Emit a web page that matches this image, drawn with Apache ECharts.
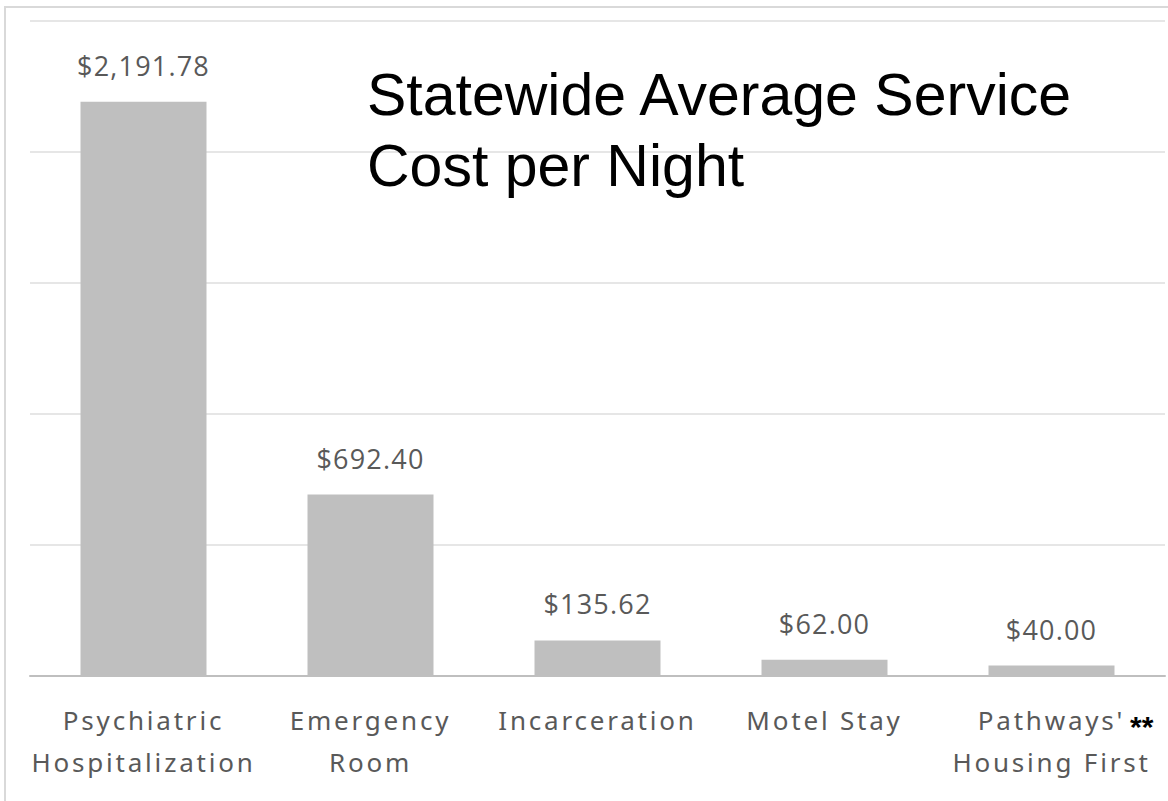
<!DOCTYPE html>
<html>
<head>
<meta charset="UTF-8">
<title>Statewide Average Service Cost per Night</title>
<style>
  html, body { margin: 0; padding: 0; background: #fff; }
  #chart { width: 1168px; height: 801px; }
  /* the original's labels are set a little wide */
  #chart text[style*="Noto Sans"] { letter-spacing: 2.8px; }
  #chart text[style*="Open Sans"] { letter-spacing: 1.2px; }
</style>
</head>
<body>
<div id="chart"></div>
<script src="https://cdn.jsdelivr.net/npm/echarts@6/dist/echarts.min.js"></script>
<script>
var categories = ['Psychiatric\nHospitalization', 'Emergency\nRoom', 'Incarceration', 'Motel Stay', "Pathways'\nHousing First"];
var costs = [2191.78, 692.40, 135.62, 62.00, 40.00];
var yTicks = [0, 500, 1000, 1500, 2000, 2500];

function money(v) {
  return '$' + v.toLocaleString('en-US', { minimumFractionDigits: 2, maximumFractionDigits: 2 });
}

var chart = echarts.init(document.getElementById('chart'), null, { renderer: 'svg' });
chart.setOption({
  animation: false,
  title: {
    text: 'Statewide Average Service\nCost per Night',
    left: 362,
    top: 54,
    textStyle: {
      fontFamily: '"Liberation Sans", Arial, sans-serif',
      fontWeight: 'normal',
      fontSize: 59,
      lineHeight: 71,
      color: '#000'
    }
  },
  grid: { left: 30, right: 3, top: 21, bottom: 125 },
  xAxis: {
    type: 'category',
    data: categories,
    axisLine: { lineStyle: { color: '#bfbfbf', width: 2 } },
    axisTick: { show: false },
    axisLabel: {
      interval: 0,
      margin: 23,
      color: '#595959',
      fontFamily: '"Noto Sans", sans-serif',
      fontSize: 26,
      lineHeight: 42
    }
  },
  yAxis: {
    type: 'value',
    min: yTicks[0],
    max: yTicks[yTicks.length - 1],
    interval: 500,
    axisLabel: { show: false },
    axisLine: { show: false },
    axisTick: { show: false },
    splitLine: { lineStyle: { color: '#e6e6e6', width: 2 } }
  },
  series: [{
    type: 'bar',
    data: costs,
    barWidth: '55.5%',
    itemStyle: { color: '#bfbfbf' },
    label: {
      show: true,
      position: 'top',
      distance: 23,
      color: '#595959',
      fontFamily: '"Open Sans", sans-serif',
      fontSize: 27,
      formatter: function (p) { return money(p.value); }
    }
  }],
  graphic: [
    {
      type: 'rect',
      shape: { x: 5, y: 7, width: 1200, height: 900 },
      style: { fill: 'none', stroke: '#d9d9d9', lineWidth: 2 },
      silent: true
    },
    {
      type: 'text',
      left: 1130,
      top: 711,
      style: { text: '**', fill: '#000', font: 'bold 30px "Liberation Sans", Arial, sans-serif' }
    }
  ]
});
</script>
</body>
</html>
